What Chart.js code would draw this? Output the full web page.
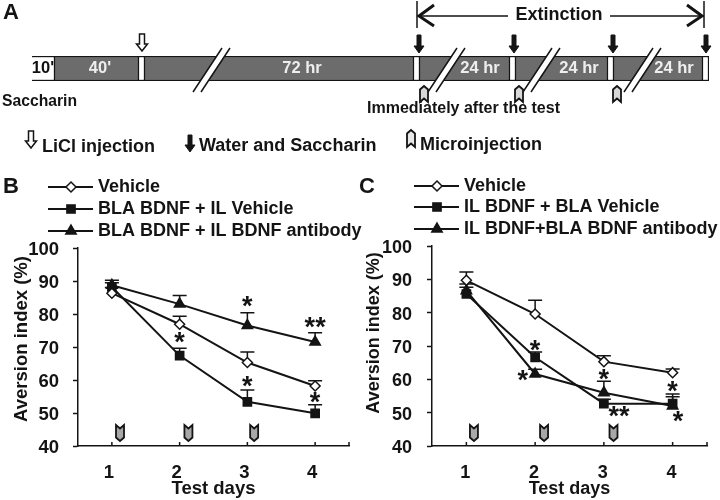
<!DOCTYPE html>
<html>
<head>
<meta charset="utf-8">
<title>Aversion index</title>
<script src="https://cdn.jsdelivr.net/npm/chart.js@4"></script>
<style>
    html, body { margin: 0; padding: 0; background: #fff; }
    body { position: relative; width: 720px; height: 500px; overflow: hidden; }
    canvas { position: absolute; }
</style>
</head>
<body>
<canvas id="timelineChart" width="720" height="170" style="left:0;top:0"></canvas>
<canvas id="panelBChart" width="380" height="330" style="left:0;top:170px"></canvas>
<canvas id="panelCChart" width="370" height="330" style="left:350px;top:170px"></canvas>
<script>
// Datos
const days = ['1', '2', '3', '4'];
const yTicks = [40, 50, 60, 70, 80, 90, 100];

const bLabels = ['Vehicle', 'BLA BDNF + IL Vehicle', 'BLA BDNF + IL BDNF antibody'];
const bVehicle = [86.3, 76.9, 65.3, 58.2];
const bBlaVehicle = [88.2, 67.4, 53.4, 49.9];
const bAntibody = [88.7, 83.0, 76.5, 71.5];
const bVehicleErr = [1.7, 2.4, 3.2, 1.6];
const bBlaVehicleErr = [1.3, 2.2, 3.6, 2.6];
const bAntibodyErr = [1.5, 2.6, 3.9, 2.8];
const bStarDays = [3, 4, 2, 3, 4];
const bStarValues = [83.5, 77.3, 72.6, 59.3, 54.4];
const bStarTexts = ['*', '**', '*', '*', '*'];
const bMicroDays = [1.12, 2.13, 3.1];

const cLabels = ['Vehicle', 'IL BDNF + BLA Vehicle', 'IL BDNF+BLA BDNF antibody'];
const cVehicle = [89.7, 79.6, 65.3, 62.0];
const cIlVehicle = [85.6, 66.6, 52.7, 52.7];
const cAntibody = [86.6, 61.6, 56.0, 52.0];
const cVehicleErr = [2.5, 4.1, 1.8, 1.1];
const cIlVehicleErr = [2.0, 1.6, 1.3, 2.9];
const cAntibodyErr = [2.0, 1.4, 3.4, 2.8];
const cStarDays = [2, 1.82, 3, 3.22, 4, 4.08];
const cStarValues = [70.1, 61.0, 61.3, 50.1, 57.6, 48.6];
const cStarTexts = ['*', '*', '*', '**', '*', '*'];
const cMicroDays = [1.11, 2.13, 3.14];

// Línea de tiempo (panel A), en unidades del eje
const timelineSegments = [23, 84, 6, 269, 6, 90, 6, 92, 6, 89, 6];
const timelineFills = ['#fff', '#6c6c6c', '#fff', '#6c6c6c', '#fff', '#6c6c6c', '#fff', '#6c6c6c', '#fff', '#6c6c6c', '#fff'];
const breakTops = [190, 425, 520, 621];
const liciArrows = [110];
const waterArrows = [387, 482, 581, 674];
const microArrows = [392, 487, 585];
const segmentTexts = ["10'", "40'", '72 hr', '24 hr', '24 hr', '24 hr'];
const segmentTextAt = [11, 68, 270, 448, 547, 642];
const segmentTextColors = ['#111', '#eee', '#eee', '#eee', '#eee', '#eee'];

const INK = '#141414';
const FONT = '"Liberation Sans"';
Chart.defaults.font.family = FONT;
Chart.defaults.color = INK;
Chart.defaults.animation = false;

function putText(ctx, str, x, y, size, align, color) {
    ctx.save();
    ctx.font = 'bold ' + size + 'px ' + FONT;
    ctx.fillStyle = color || INK;
    ctx.textAlign = align || 'left';
    ctx.textBaseline = 'middle';
    ctx.fillText(str, x, y);
    ctx.restore();
}

function downArrow(ctx, x, top, bottom, hollow) {
    const shaft = hollow ? 2.5 : 2;
    const head = hollow ? 5.5 : 5;
    const neck = bottom - 7;
    ctx.save();
    ctx.beginPath();
    ctx.moveTo(x - shaft, top);
    ctx.lineTo(x + shaft, top);
    ctx.lineTo(x + shaft, neck);
    ctx.lineTo(x + head, neck);
    ctx.lineTo(x, bottom);
    ctx.lineTo(x - head, neck);
    ctx.lineTo(x - shaft, neck);
    ctx.closePath();
    ctx.fillStyle = hollow ? '#fff' : INK;
    ctx.strokeStyle = INK;
    ctx.lineWidth = hollow ? 1.5 : 1;
    ctx.fill();
    ctx.stroke();
    ctx.restore();
}

// Marca de microinyección; up = muesca abajo y punta arriba
function microMark(ctx, x, top, bottom, fill, up) {
    const w = 4, tip = 3.5;
    ctx.save();
    ctx.translate(x, up ? top : bottom);
    const s = up ? 1 : -1;
    const h = bottom - top;
    ctx.beginPath();
    ctx.moveTo(-w, s * tip);
    ctx.lineTo(0, 0);
    ctx.lineTo(w, s * tip);
    ctx.lineTo(w, s * h);
    ctx.lineTo(0, s * (h - tip));
    ctx.lineTo(-w, s * h);
    ctx.closePath();
    ctx.fillStyle = fill;
    ctx.strokeStyle = INK;
    ctx.lineWidth = 1.8;
    ctx.fill();
    ctx.stroke();
    ctx.restore();
}

const timelinePlugin = {
    id: 'timelineNotes',
    afterDatasetsDraw(chart) {
        const ctx = chart.ctx;
        const x = chart.scales.x;
        const barTop = chart.chartArea.top;
        const barBottom = chart.chartArea.bottom;

        // Cortes del eje
        breakTops.forEach(v => {
            const top = x.getPixelForValue(v);
            ctx.save();
            ctx.beginPath();
            ctx.moveTo(top, 48);
            ctx.lineTo(top + 8, 48);
            ctx.lineTo(top - 21, 92);
            ctx.lineTo(top - 29, 92);
            ctx.closePath();
            ctx.fillStyle = '#fff';
            ctx.fill();
            ctx.strokeStyle = INK;
            ctx.lineWidth = 1.5;
            ctx.beginPath();
            ctx.moveTo(top, 48);
            ctx.lineTo(top - 29, 92);
            ctx.moveTo(top + 8, 48);
            ctx.lineTo(top - 21, 92);
            ctx.stroke();
            ctx.restore();
        });

        segmentTexts.forEach((t, i) => {
            putText(ctx, t, x.getPixelForValue(segmentTextAt[i]), (barTop + barBottom) / 2, 16.5, 'center', segmentTextColors[i]);
        });

        liciArrows.forEach(v => downArrow(ctx, x.getPixelForValue(v), 34, 51, true));
        waterArrows.forEach(v => downArrow(ctx, x.getPixelForValue(v), 35, 53, false));
        microArrows.forEach(v => microMark(ctx, x.getPixelForValue(v), 86, 102, '#d8d8d8', true));

        putText(ctx, 'A', 3, 13, 22);
        putText(ctx, 'Saccharin', 2, 102, 15.7);
        putText(ctx, 'Immediately after the test', 367, 109, 16);
        downArrow(ctx, 31, 131, 148, true);
        putText(ctx, 'LiCl injection', 42, 147, 18);
        downArrow(ctx, 190, 135, 152, false);
        putText(ctx, 'Water and Saccharin', 199, 146, 18);
        microMark(ctx, 411, 130, 147, '#e8e8e8', true);
        putText(ctx, 'Microinjection', 420, 145, 18);

        // Flecha de extinción
        const from = x.getPixelForValue(385);
        const to = x.getPixelForValue(672);
        ctx.save();
        ctx.strokeStyle = INK;
        ctx.lineWidth = 1.5;
        ctx.beginPath();
        ctx.moveTo(from, 1); ctx.lineTo(from, 28);
        ctx.moveTo(to, 1); ctx.lineTo(to, 28);
        ctx.moveTo(from, 16); ctx.lineTo(508, 16);
        ctx.moveTo(610, 16); ctx.lineTo(to, 16);
        ctx.stroke();
        ctx.lineWidth = 3;
        ctx.beginPath();
        ctx.moveTo(from + 17, 5); ctx.lineTo(from + 2, 16); ctx.lineTo(from + 17, 26);
        ctx.moveTo(to - 17, 5); ctx.lineTo(to - 2, 16); ctx.lineTo(to - 17, 26);
        ctx.stroke();
        ctx.restore();
        putText(ctx, 'Extinction', 559, 15, 18, 'center');
    }
};

new Chart(document.getElementById('timelineChart'), {
    type: 'bar',
    data: {
        labels: ['Timeline'],
        datasets: timelineSegments.map((w, i) => ({
            data: [w],
            backgroundColor: timelineFills[i],
            borderColor: INK,
            borderWidth: 1.5,
            barPercentage: 1,
            categoryPercentage: 1
        }))
    },
    options: {
        indexAxis: 'y',
        responsive: false,
        layout: { padding: { left: 32, right: 11, top: 56, bottom: 89 } },
        scales: {
            x: { stacked: true, display: false, min: 0, max: 677 },
            y: { stacked: true, display: false }
        },
        plugins: { legend: { display: false }, tooltip: { enabled: false } }
    },
    plugins: [timelinePlugin]
});

const seriesStyles = [
    { pointStyle: 'rectRot', pointRadius: 5, pointBackgroundColor: '#fff' },
    { pointStyle: 'rect', pointRadius: 5.8, pointBackgroundColor: INK },
    { pointStyle: 'triangle', pointRadius: 6, pointBackgroundColor: INK }
];

// Barras de error, leyenda, asteriscos y demás anotaciones de cada panel
function panelPlugin(p) {
    return {
        id: 'panelNotes',
        beforeDatasetsDraw(chart) {
            const ctx = chart.ctx;
            const x = chart.scales.x;
            const y = chart.scales.y;
            ctx.save();
            ctx.strokeStyle = INK;
            ctx.lineWidth = 1.5;
            p.errors.forEach((errs, s) => {
                errs.forEach((e, i) => {
                    const px = x.getPixelForValue(i);
                    const base = y.getPixelForValue(p.series[s][i]);
                    const top = y.getPixelForValue(p.series[s][i] + e);
                    ctx.beginPath();
                    ctx.moveTo(px, base);
                    ctx.lineTo(px, top);
                    ctx.moveTo(px - 7, top);
                    ctx.lineTo(px + 7, top);
                    ctx.stroke();
                });
            });
            ctx.restore();
        },
        afterDatasetsDraw(chart) {
            const ctx = chart.ctx;
            const x = chart.scales.x;
            const y = chart.scales.y;
            const area = chart.chartArea;

            // Marcas del eje x hacia dentro
            ctx.save();
            ctx.strokeStyle = INK;
            ctx.lineWidth = 1.5;
            days.forEach((d, i) => {
                const px = x.getPixelForValue(i);
                ctx.beginPath();
                ctx.moveTo(px, area.bottom);
                ctx.lineTo(px, area.bottom - 4);
                ctx.stroke();
            });
            ctx.beginPath();
            ctx.moveTo(area.right, area.bottom);
            ctx.lineTo(area.right, area.bottom - 4);
            ctx.stroke();
            ctx.restore();

            p.microDays.forEach(d => {
                microMark(ctx, x.getPixelForValue(d - 1), area.bottom - 21, area.bottom - 5, '#a8a8a8', false);
            });

            p.starTexts.forEach((t, i) => {
                ctx.save();
                ctx.font = 'bold 27px ' + FONT;
                ctx.fillStyle = INK;
                ctx.textAlign = 'center';
                ctx.textBaseline = 'alphabetic';
                ctx.fillText(t, x.getPixelForValue(p.starDays[i] - 1), y.getPixelForValue(p.starValues[i]) + 13);
                ctx.restore();
            });

            // Leyenda
            p.labels.forEach((label, i) => {
                const rowY = p.legendY[i];
                ctx.save();
                ctx.strokeStyle = INK;
                ctx.lineWidth = 2;
                ctx.beginPath();
                ctx.moveTo(p.legendX, rowY);
                ctx.lineTo(p.legendX + 45, rowY);
                ctx.stroke();
                ctx.fillStyle = seriesStyles[i].pointBackgroundColor;
                ctx.lineWidth = 1.5;
                Chart.helpers.drawPoint(ctx, {
                    pointStyle: seriesStyles[i].pointStyle,
                    radius: seriesStyles[i].pointRadius,
                    rotation: 0,
                    borderWidth: 1.5
                }, p.legendX + 23, rowY);
                ctx.restore();
                putText(ctx, label, p.legendX + 50, rowY, p.legendSize);
            });

            putText(ctx, p.letter, p.letterX, 17, 22);

            ctx.save();
            ctx.translate(p.titleX, p.titleY);
            ctx.rotate(-Math.PI / 2);
            putText(ctx, 'Aversion index (%)', 0, 0, p.fontSize, 'center');
            ctx.restore();
        }
    };
}

function createPanel(canvasId, p) {
    new Chart(document.getElementById(canvasId), {
        type: 'line',
        data: {
            labels: days,
            datasets: p.series.map((values, i) => ({
                label: p.labels[i],
                data: values,
                borderColor: INK,
                borderWidth: 2,
                tension: 0,
                pointBorderColor: INK,
                pointBorderWidth: 1.5,
                pointStyle: seriesStyles[i].pointStyle,
                pointRadius: seriesStyles[i].pointRadius,
                pointBackgroundColor: seriesStyles[i].pointBackgroundColor
            }))
        },
        options: {
            responsive: false,
            layout: { padding: { top: p.paddingTop, right: p.paddingRight, left: 0, bottom: 0 } },
            scales: {
                x: {
                    offset: true,
                    afterFit(scale) { scale.height = 54; },
                    grid: { display: false, offset: true },
                    border: { color: INK, width: 1.5 },
                    ticks: {
                        color: INK,
                        padding: 8,
                        labelOffset: p.xLabelOffset,
                        maxRotation: 0,
                        font: { size: p.fontSize, weight: 'bold' }
                    },
                    title: {
                        display: true,
                        text: 'Test days',
                        color: INK,
                        padding: { top: 0, bottom: 0 },
                        font: { size: p.fontSize, weight: 'bold' }
                    }
                },
                y: {
                    min: 40,
                    max: 100,
                    afterFit(scale) { scale.width = p.axisWidth; },
                    afterBuildTicks(scale) { scale.ticks = yTicks.map(v => ({ value: v })); },
                    grid: { drawOnChartArea: false, drawTicks: true, tickLength: 5, tickWidth: 1.5, tickColor: INK },
                    border: { color: INK, width: 1.5 },
                    ticks: {
                        color: INK,
                        padding: p.tickPadding,
                        labelOffset: 2,
                        font: { size: p.fontSize, weight: 'bold' }
                    }
                }
            },
            plugins: { legend: { display: false }, tooltip: { enabled: false } }
        },
        plugins: [panelPlugin(p)]
    });
}

createPanel('panelBChart', {
    letter: 'B', letterX: 3,
    labels: bLabels,
    series: [bVehicle, bBlaVehicle, bAntibody],
    errors: [bVehicleErr, bBlaVehicleErr, bAntibodyErr],
    starDays: bStarDays, starValues: bStarValues, starTexts: bStarTexts,
    microDays: bMicroDays,
    axisWidth: 78, paddingTop: 78, paddingRight: 31, tickPadding: 14, xLabelOffset: -3,
    fontSize: 18.5, legendSize: 18, legendX: 48, legendY: [17, 39, 61],
    titleX: 22, titleY: 169
});

createPanel('panelCChart', {
    letter: 'C', letterX: 9,
    labels: cLabels,
    series: [cVehicle, cIlVehicle, cAntibody],
    errors: [cVehicleErr, cIlVehicleErr, cAntibodyErr],
    starDays: cStarDays, starValues: cStarValues, starTexts: cStarTexts,
    microDays: cMicroDays,
    axisWidth: 82, paddingTop: 76, paddingRight: 13, tickPadding: 15, xLabelOffset: -1,
    fontSize: 18, legendSize: 18, legendX: 64, legendY: [16, 37, 59],
    titleX: 24, titleY: 163
});
</script>
</body>
</html>
